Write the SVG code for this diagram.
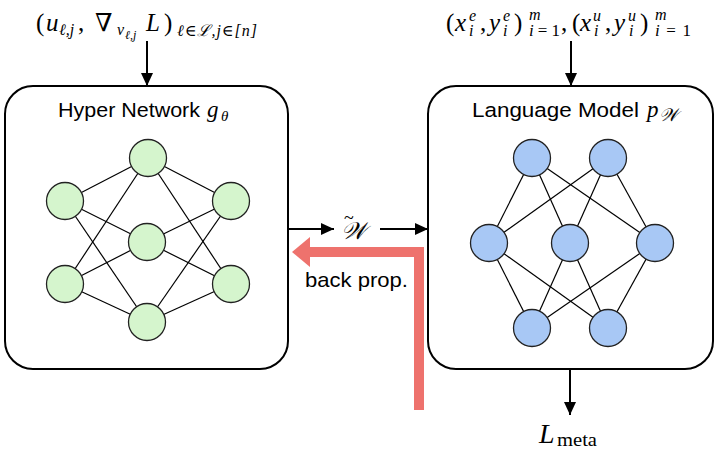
<svg xmlns="http://www.w3.org/2000/svg" width="720" height="454" viewBox="0 0 720 454">
<style>
.box{fill:#fff;stroke:#000;stroke-width:2}
.g{fill:#d5f5cd;stroke:#222;stroke-width:1.3}
.b{fill:#a8c8f5;stroke:#222;stroke-width:1.3}
.e{stroke:#000;stroke-width:1.2;fill:none}
.ar{stroke:#000;stroke-width:2;fill:none}
.m{font-family:"Liberation Serif","DejaVu Serif",serif;fill:#000}
.i{font-style:italic}
.L{font-size:25px}
.s{font-size:16px}
.ss{font-size:12px}
.t{font-family:"Liberation Sans",Arial,sans-serif;font-size:20.5px;fill:#000}
</style>
<defs>
<marker id="ah" markerUnits="userSpaceOnUse" markerWidth="13" markerHeight="12" refX="13" refY="6" orient="auto">
<path d="M0,0 L13,6 L0,12 z" fill="#000"/>
</marker>
</defs>

<g id="hyper-network">
<rect class="box" x="5" y="86" width="283" height="283" rx="28"/>
<text class="t" x="58" y="117" textLength="142" lengthAdjust="spacingAndGlyphs">Hyper Network</text>
<text class="m i" x="207" y="117" style="font-size:23px">g</text>
<text class="m i" x="221" y="121" style="font-size:15px">θ</text>
</g>

<g id="language-model">
<rect class="box" x="428" y="86" width="285" height="283" rx="28"/>
<text class="t" x="472" y="117" textLength="167" lengthAdjust="spacingAndGlyphs">Language Model</text>
<text class="m i" x="647" y="117" style="font-size:23px">p</text>
<text class="m i" x="659" y="121" style="font-size:18px">𝒲</text>
</g>

<g id="connectors">
<g id="hn-edges">
<line class="e" x1="148" y1="158" x2="65" y2="201"/>
<line class="e" x1="148" y1="158" x2="231" y2="201"/>
<line class="e" x1="148" y1="158" x2="65" y2="284"/>
<line class="e" x1="148" y1="158" x2="231" y2="284"/>
<line class="e" x1="65" y1="201" x2="147" y2="242"/>
<line class="e" x1="65" y1="201" x2="147" y2="322"/>
<line class="e" x1="231" y1="201" x2="147" y2="242"/>
<line class="e" x1="231" y1="201" x2="147" y2="322"/>
<line class="e" x1="147" y1="242" x2="65" y2="284"/>
<line class="e" x1="147" y1="242" x2="231" y2="284"/>
<line class="e" x1="65" y1="284" x2="147" y2="322"/>
<line class="e" x1="231" y1="284" x2="147" y2="322"/>
</g>
<g id="lm-edges">
<line class="e" x1="532" y1="158" x2="489" y2="243"/>
<line class="e" x1="532" y1="158" x2="570" y2="243"/>
<line class="e" x1="532" y1="158" x2="655" y2="243"/>
<line class="e" x1="608" y1="158" x2="489" y2="243"/>
<line class="e" x1="608" y1="158" x2="570" y2="243"/>
<line class="e" x1="608" y1="158" x2="655" y2="243"/>
<line class="e" x1="489" y1="243" x2="532" y2="328"/>
<line class="e" x1="489" y1="243" x2="608" y2="328"/>
<line class="e" x1="570" y1="243" x2="532" y2="328"/>
<line class="e" x1="570" y1="243" x2="608" y2="328"/>
<line class="e" x1="655" y1="243" x2="532" y2="328"/>
<line class="e" x1="655" y1="243" x2="608" y2="328"/>
</g>
<line class="ar" x1="147" y1="41" x2="147" y2="86" marker-end="url(#ah)"/>
<line class="ar" x1="571" y1="41" x2="571" y2="86" marker-end="url(#ah)"/>
<line class="ar" x1="288" y1="229" x2="334" y2="229" marker-end="url(#ah)"/>
<line class="ar" x1="380" y1="229" x2="428" y2="229" marker-end="url(#ah)"/>
<line class="ar" x1="570" y1="369" x2="570" y2="415" marker-end="url(#ah)"/>
<g id="back-prop-arrow">
<path d="M419,410 L419,252 L308,252" fill="none" stroke="#ee726d" stroke-width="10" stroke-linejoin="miter"/>
<path d="M310,237 L292,252 L310,267 z" fill="#ee726d"/>
</g>
</g>

<g id="hn-neurons">
<circle class="g" cx="148" cy="158" r="18.5"/>
<circle class="g" cx="65" cy="201" r="18.5"/>
<circle class="g" cx="231" cy="201" r="18.5"/>
<circle class="g" cx="147" cy="242" r="18.5"/>
<circle class="g" cx="65" cy="284" r="18.5"/>
<circle class="g" cx="231" cy="284" r="18.5"/>
<circle class="g" cx="147" cy="322" r="18.5"/>
</g>
<g id="lm-neurons">
<circle class="b" cx="532" cy="158" r="18.5"/>
<circle class="b" cx="608" cy="158" r="18.5"/>
<circle class="b" cx="489" cy="243" r="18.5"/>
<circle class="b" cx="570" cy="243" r="18.5"/>
<circle class="b" cx="655" cy="243" r="18.5"/>
<circle class="b" cx="532" cy="328" r="18.5"/>
<circle class="b" cx="608" cy="328" r="18.5"/>
</g>

<g id="input-hn">
<text class="m L" x="36" y="31">(</text>
<text class="m i L" x="46" y="31">u</text>
<text class="m i s" x="59" y="35">ℓ,j</text>
<text class="m L" x="78" y="31">,</text>
<text class="m L" x="95" y="31">∇</text>
<text class="m i s" x="117" y="35">v</text>
<text class="m i ss" x="125" y="39">ℓ,j</text>
<text class="m i L" x="146" y="31">L</text>
<text class="m L" x="164" y="31">)</text>
<text class="m i s" x="177" y="36" textLength="80" lengthAdjust="spacing">ℓ∈ℒ,j∈[n]</text>
</g>

<g id="input-lm">
<text class="m L" x="446" y="31">(</text>
<text class="m i L" x="455" y="31">x</text>
<text class="m i s" x="469" y="21">e</text>
<text class="m i s" x="469" y="36">i</text>
<text class="m L" x="480" y="31">,</text>
<text class="m i L" x="489" y="31">y</text>
<text class="m i s" x="503" y="21">e</text>
<text class="m i s" x="503" y="36">i</text>
<text class="m L" x="514" y="31">)</text>
<text class="m i s" x="529" y="20">m</text>
<text class="m" x="529" y="36" style="font-size:17px" textLength="31" lengthAdjust="spacing"><tspan class="i">i</tspan>=1</text>
<text class="m L" x="561" y="31">,</text>
<text class="m L" x="572" y="31">(</text>
<text class="m i L" x="580" y="31">x</text>
<text class="m i s" x="593" y="21">u</text>
<text class="m i s" x="594" y="36">i</text>
<text class="m L" x="605" y="31">,</text>
<text class="m i L" x="614" y="31">y</text>
<text class="m i s" x="628" y="21">u</text>
<text class="m i s" x="629" y="36">i</text>
<text class="m L" x="640" y="31">)</text>
<text class="m i s" x="655" y="20">m</text>
<text class="m" x="655" y="36" style="font-size:17px" textLength="36" lengthAdjust="spacing"><tspan class="i">i</tspan>=1</text>
</g>

<g id="w-tilde">
<text class="m i" x="341" y="239" style="font-size:24px">𝒲</text>
<text class="m" x="344" y="224" style="font-size:18px">~</text>
</g>

<g id="back-prop-label">
<text class="t" x="305" y="287" style="font-size:21px" textLength="103" lengthAdjust="spacingAndGlyphs">back prop.</text>
</g>

<g id="l-meta">
<text class="m i" x="539" y="443" style="font-size:28px">L</text>
<text class="m" x="557" y="446" style="font-size:18px" textLength="40" lengthAdjust="spacingAndGlyphs">meta</text>
</g>
</svg>
